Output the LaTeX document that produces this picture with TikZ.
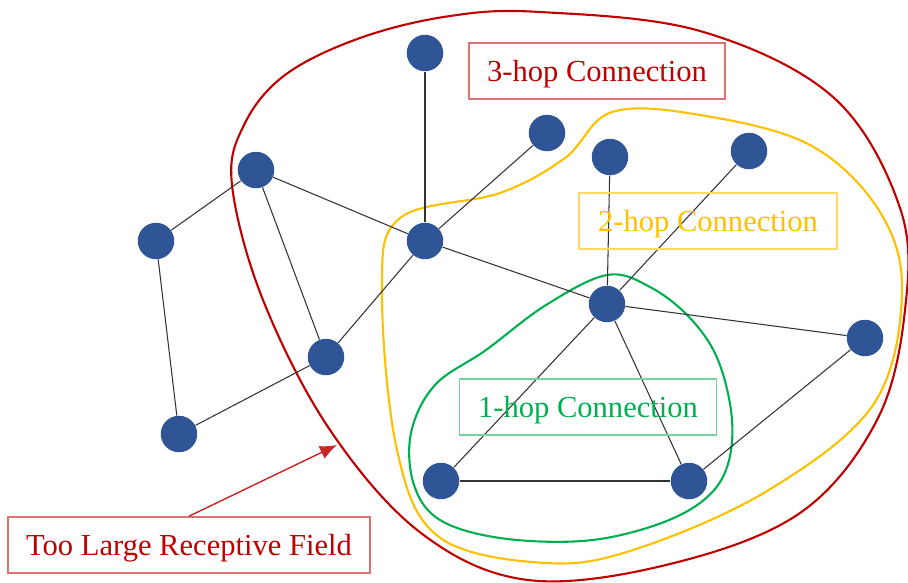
\documentclass[tikz,border=0pt]{standalone}
\usepackage{fontspec}
\setmainfont{Liberation Serif}
\usetikzlibrary{positioning,arrows.meta}
\definecolor{vertexblue}{RGB}{47,85,151}
\definecolor{hopred}{RGB}{192,0,0}
\definecolor{hopyellow}{RGB}{255,192,0}
\definecolor{hopgreen}{RGB}{0,176,80}

\begin{document}
\begin{tikzpicture}[
    x=0.02cm, y=-0.02cm,
    vertex/.style={circle, fill=vertexblue, inner sep=0pt, minimum size=0.73cm},
    link/.style={draw=black!80, line width=0.6pt},
    hopbox/.style={rectangle, draw, line width=0.9pt, inner sep=0pt, minimum height=1.12cm, text depth=0pt, font=\fontsize{17.4}{20}\selectfont},
    hull/.style={line width=1.2pt}
]
    \useasboundingbox (0,0) rectangle (908,582);

    % receptive fields
    \draw[hull, hopred] plot[smooth cycle, tension=0.6] coordinates {
        (540,12) (700,31) (833,97) (900,208) (905,310) (877,420) (800,513)
        (670,564) (528,580) (421,533) (330,430) (263,300) (232,185) (244,125)
        (285,75) (360,38) (450,16)};
    \draw[hull, hopyellow] plot[smooth cycle, tension=0.6] coordinates {
        (400,218) (500,193) (565,158) (612,112) (700,115) (810,145) (880,212)
        (902,294) (873,405) (767,491) (636,549) (546,563) (439,537) (397,450)
        (382,290)};
    \draw[hull, hopgreen] plot[smooth cycle, tension=0.6] coordinates {
        (607,275) (546,305) (486,350) (435,385) (411,433) (414,485) (440,520)
        (500,538) (582,541) (650,527) (700,503) (726,470) (732,420) (718,360)
        (690,318) (650,287)};

    % graph
    \node[vertex] (v1) at (425,53) {};
    \node[vertex] (v2) at (547,133) {};
    \node[vertex] (v3) at (610,157) {};
    \node[vertex] (v4) at (749,151) {};
    \node[vertex] (v5) at (256,170) {};
    \node[vertex] (v6) at (156,241) {};
    \node[vertex] (v7) at (425,241) {};
    \node[vertex] (v8) at (607,304) {};
    \node[vertex] (v9) at (865,338) {};
    \node[vertex] (v10) at (326,357) {};
    \node[vertex] (v11) at (179,434) {};
    \node[vertex] (v12) at (441,481) {};
    \node[vertex] (v13) at (689,481) {};

    \draw[link] (v1) -- (v7);
    \draw[link] (v2) -- (v7);
    \draw[link] (v5) -- (v6);
    \draw[link] (v5) -- (v7);
    \draw[link] (v5) -- (v10);
    \draw[link] (v6) -- (v11);
    \draw[link] (v11) -- (v10);
    \draw[link] (v10) -- (v7);
    \draw[link] (v7) -- (v8);
    \draw[link] (v3) -- (v8);
    \draw[link] (v4) -- (v8);
    \draw[link] (v8) -- (v9);
    \draw[link] (v8) -- (v12);
    \draw[link] (v8) -- (v13);
    \draw[link] (v12) -- (v13);
    \draw[link] (v13) -- (v9);

    % labels
    \node[hopbox, draw=hopred!55, text=hopred, minimum width=5.12cm] (hop3) at (597,71) {3-hop Connection};
    \node[hopbox, draw=hopyellow!60, text=hopyellow, minimum width=5.16cm] (hop2) at (708,221) {2-hop Connection};
    \node[hopbox, draw=hopgreen!55, text=hopgreen, minimum width=5.14cm] (hop1) at (588,407) {1-hop Connection};
    \node[hopbox, draw=hopred!55, text=hopred, minimum width=7.24cm] (field) at (189,545) {Too Large Receptive Field};

    \coordinate (tip) at (337,445);
    \draw[-{Latex[length=0.34cm,width=0.28cm]}, hopred!85, line width=0.8pt] (field.north) -- (tip);
\end{tikzpicture}
\end{document}
